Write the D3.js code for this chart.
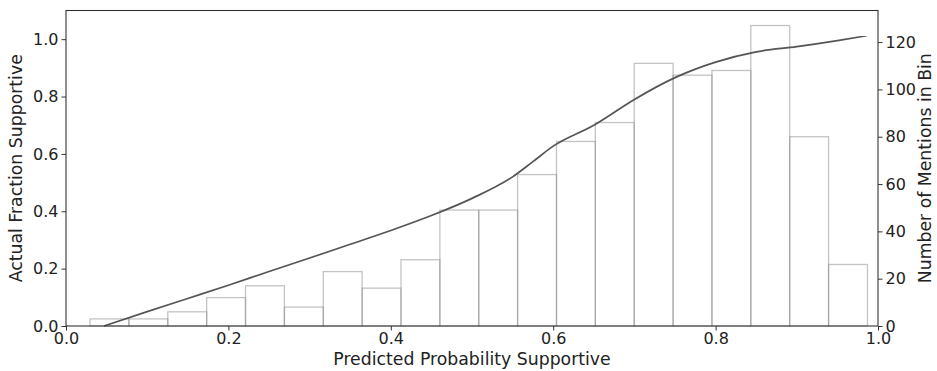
<!DOCTYPE html>
<html>
<head>
<meta charset="utf-8">
<script src="https://cdn.jsdelivr.net/npm/d3@7"></script>
<style>
  html, body { margin: 0; padding: 0; background: #fff; }
  svg { display: block; font-family: "DejaVu Sans", sans-serif; }
</style>
</head>
<body>
<svg id="chart" width="937" height="371"></svg>
<script>
// Histogram bins of predicted probability (20 equal bins)
const binStart = 0.0296;
const binEnd = 0.987;
const binCounts = [3, 3, 6, 12, 17, 8, 23, 16, 28, 49, 49, 64, 78, 86, 111, 106, 108, 127, 80, 26];

// Calibration curve: predicted probability vs actual fraction supportive
const curveX = [0.047, 0.10, 0.15, 0.20, 0.25, 0.30, 0.35, 0.40, 0.45, 0.50, 0.55, 0.575, 0.60, 0.65, 0.70, 0.75, 0.80, 0.85, 0.90, 0.95, 0.986];
const curveY = [0.0, 0.05, 0.096, 0.142, 0.19, 0.237, 0.285, 0.333, 0.385, 0.445, 0.52, 0.573, 0.627, 0.700, 0.79, 0.866, 0.92, 0.956, 0.974, 0.995, 1.012];

// Tick labels
const xTicks = [0.0, 0.2, 0.4, 0.6, 0.8, 1.0];
const leftTicks = [0.0, 0.2, 0.4, 0.6, 0.8, 1.0];
const rightTicks = [0, 20, 40, 60, 80, 100, 120];

const svg = d3.select("#chart");
const margin = { left: 66, right: 59, top: 10.5, bottom: 45 };
const W = 937, H = 371;
const innerW = W - margin.left - margin.right;
const innerH = H - margin.top - margin.bottom;

const x = d3.scaleLinear().domain([0, 1]).range([margin.left, margin.left + innerW]);
const yL = d3.scaleLinear().domain([0, 1.1]).range([margin.top + innerH, margin.top]);
const yR = d3.scaleLinear().domain([0, 127 * 1.05]).range([margin.top + innerH, margin.top]);

const binW = (binEnd - binStart) / binCounts.length;
const bins = binCounts.map((c, i) => ({ x0: binStart + i * binW, x1: binStart + (i + 1) * binW, c }));

// Histogram bars (outline only)
svg.append("g")
  .selectAll("rect")
  .data(bins)
  .join("rect")
  .attr("x", d => x(d.x0))
  .attr("width", d => x(d.x1) - x(d.x0))
  .attr("y", d => yR(d.c))
  .attr("height", d => yR(0) - yR(d.c))
  .attr("fill", "none")
  .attr("stroke", "#8a8a8a")
  .attr("stroke-opacity", 0.5)
  .attr("stroke-width", 1.3);

// Calibration curve
const pts = curveX.map((v, i) => [v, curveY[i]]);
svg.append("path")
  .datum(pts)
  .attr("fill", "none")
  .attr("stroke", "#555")
  .attr("stroke-width", 1.7)
  .attr("d", d3.line().x(d => x(d[0])).y(d => yL(d[1])).curve(d3.curveMonotoneX));

// Frame
svg.append("rect")
  .attr("x", margin.left).attr("y", margin.top)
  .attr("width", innerW).attr("height", innerH)
  .attr("fill", "none").attr("stroke", "#333").attr("stroke-width", 1.1);

const fmt1 = d3.format(".1f");
const tickFont = 16;

function styleAxis(g) {
  g.select(".domain").remove();
  g.selectAll(".tick line").attr("stroke", "#333").attr("stroke-width", 1);
  g.selectAll(".tick text").attr("fill", "#222").style("font-size", tickFont + "px").style("font-family", "DejaVu Sans, sans-serif");
}

svg.append("g")
  .attr("transform", `translate(0,${margin.top + innerH})`)
  .call(d3.axisBottom(x).tickValues(xTicks).tickFormat(fmt1).tickSize(4.5).tickPadding(2))
  .call(styleAxis);

svg.append("g")
  .attr("transform", `translate(${margin.left},0)`)
  .call(d3.axisLeft(yL).tickValues(leftTicks).tickFormat(fmt1).tickSize(4.5).tickPadding(3))
  .call(styleAxis);

svg.append("g")
  .attr("transform", `translate(${margin.left + innerW},0)`)
  .call(d3.axisRight(yR).tickValues(rightTicks).tickFormat(d3.format("d")).tickSize(4.5).tickPadding(3))
  .call(styleAxis);

// Axis titles
const labFont = 17.3;
svg.append("text")
  .attr("x", margin.left + innerW / 2).attr("y", 365)
  .attr("text-anchor", "middle").attr("fill", "#222")
  .style("font-size", labFont + "px")
  .text("Predicted Probability Supportive");

svg.append("text")
  .attr("transform", `translate(22,${margin.top + innerH / 2}) rotate(-90)`)
  .attr("text-anchor", "middle").attr("fill", "#222")
  .style("font-size", labFont + "px")
  .text("Actual Fraction Supportive");

svg.append("text")
  .attr("transform", `translate(931,${margin.top + innerH / 2}) rotate(-90)`)
  .attr("text-anchor", "middle").attr("fill", "#222")
  .style("font-size", labFont + "px")
  .text("Number of Mentions in Bin");
</script>
</body>
</html>
